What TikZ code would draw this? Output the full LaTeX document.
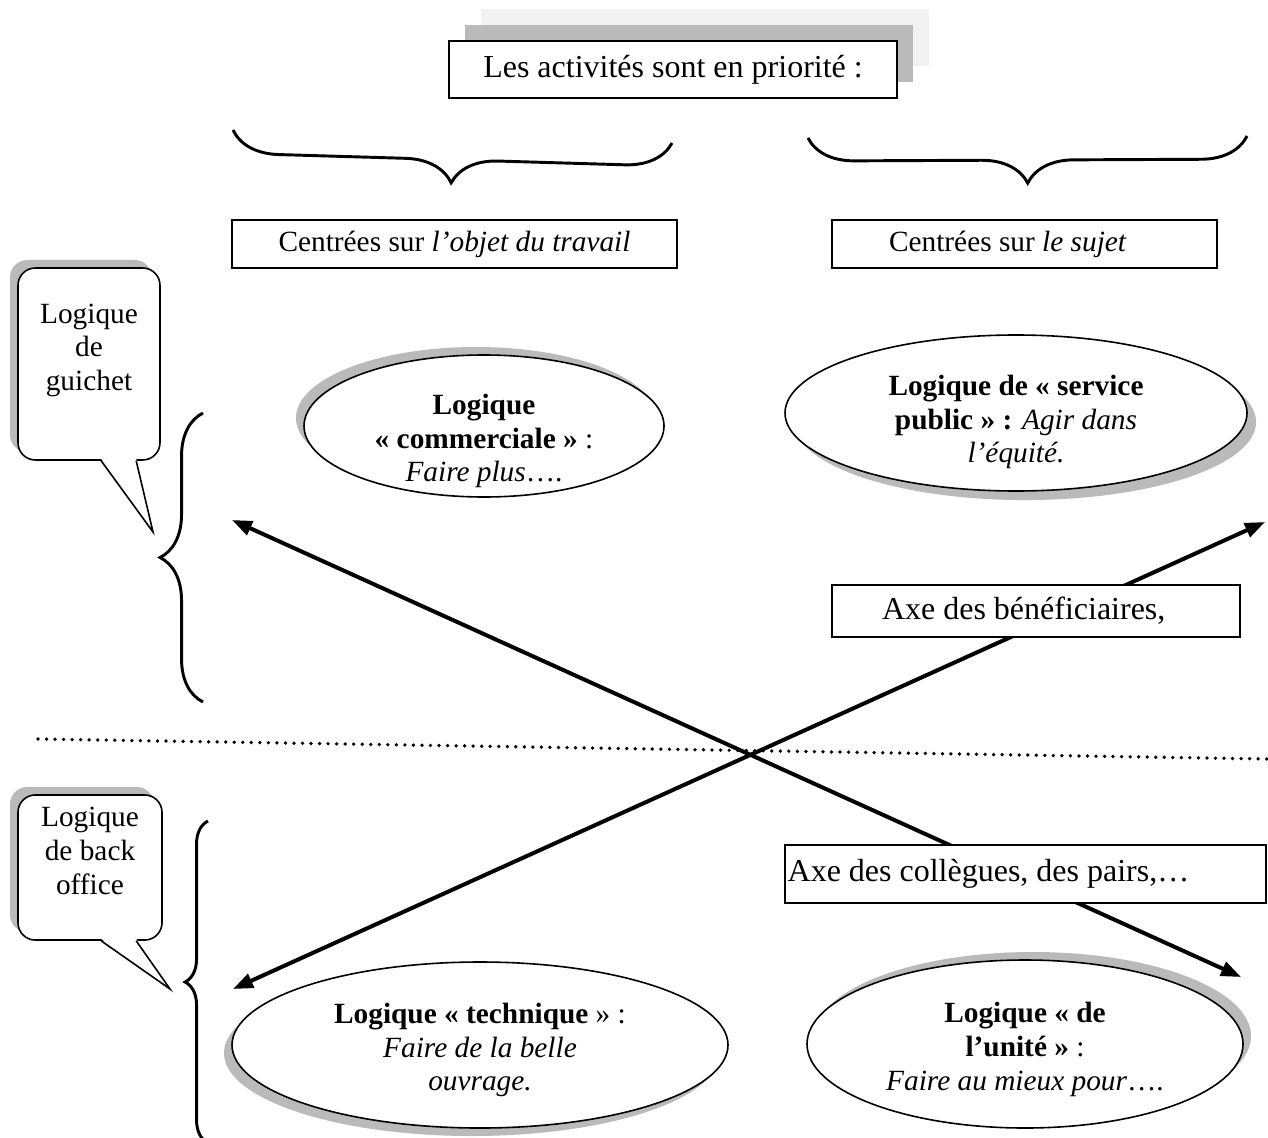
\documentclass[tikz,border=0pt]{standalone}
\usepackage{fontspec}
\setmainfont{Liberation Serif}
\usetikzlibrary{shapes.geometric, arrows.meta, decorations.pathreplacing, shadows}

\definecolor{ombre}{gray}{0.73}
\definecolor{ombreclaire}{gray}{0.95}

\begin{document}
\begin{tikzpicture}[
    % One unit is one pixel of the page, y grows downwards
    x=0.375pt, y=-0.375pt,
    font=\fontsize{11pt}{12.65pt}\selectfont,
    grand/.style={font=\fontsize{12pt}{13.8pt}\selectfont},
    % Style for the plain boxes
    cadre/.style={
        rectangle,
        draw=black,
        line width=0.6pt,
        fill=white,
        inner sep=2pt,
        minimum height=18pt
    },
    % Boxes whose text starts on the left
    etiquette/.style={
        cadre,
        align=flush left,
        inner xsep=0pt
    },
    % Style for the speech bubbles on the left
    bulle/.style={
        rectangle,
        rounded corners=6.5pt,
        draw=black,
        line width=0.6pt,
        fill=white,
        align=center,
        inner xsep=3pt,
        inner ysep=1pt,
        general shadow={fill=ombre, shadow xshift=-3pt, shadow yshift=3pt}
    },
    % Style for the four logics (ellipses) and their texts
    logique/.style={
        ellipse,
        draw=black,
        line width=0.6pt,
        fill=white,
        inner sep=0pt
    },
    texte/.style={align=center, inner sep=0pt},
    accolade/.style={decorate, line width=1.1pt, decoration={brace}},
    fleche/.style={<->, >={Triangle[length=7.5pt,width=5.5pt]}, line width=1.5pt},
    separation/.style={line width=1.4pt, dash pattern=on 0pt off 3.2pt, line cap=round}
]

\path[use as bounding box, fill=white] (0,0) rectangle (1268,1137);

% 1. Title with its two shadows
\node[cadre, grand, minimum width=168pt, minimum height=21.4pt,
      general shadow={fill=ombreclaire, shadow xshift=12pt, shadow yshift=12pt},
      general shadow={fill=ombre, shadow xshift=6pt, shadow yshift=6pt}]
      (titre) at (673,69.5) {Les activités sont en priorité :};

% 2. Braces under the title
\draw[accolade, decoration={amplitude=17.4pt}] (672,143) -- (233,130);
\draw[accolade, decoration={amplitude=17.3pt}] (1247,136) -- (808,138);

\node[cadre, minimum width=166.9pt] (objet) at (454.5,244) {Centrées sur \textit{l’objet du travail}};
\node[etiquette, text width=144.4pt] (sujet) at (1024.5,244) {\hspace*{21.4pt}Centrées sur \textit{le sujet}};

% 3. The four logics
\node[logique, minimum width=135pt, minimum height=53.25pt,
      general shadow={fill=ombre, shadow xshift=-3pt, shadow yshift=3pt}]
      (commerciale) at (484,426) {};
\node[texte] (commerciale_texte) at ([shift={(0,15)}]commerciale.center)
      {\textbf{Logique}\\\textbf{« commerciale »} :\\\textit{Faire plus}….};

\node[logique, minimum width=173.25pt, minimum height=58.5pt,
      general shadow={fill=ombre, shadow xshift=3.4pt, shadow yshift=-3.4pt}]
      (service) at (1016,413) {};
\node[texte] (service_texte) at ([shift={(0,9)}]service.center)
      {\textbf{Logique de « service}\\\textbf{public » :} \textit{Agir dans}\\\textit{l’équité.}};

\node[logique, minimum width=186pt, minimum height=62.25pt,
      general shadow={fill=ombre, shadow xshift=-3pt, shadow yshift=-3pt}]
      (technique) at (480,1045) {};
\node[texte] (technique_texte) at ([shift={(0,5)}]technique.center)
      {\textbf{Logique « technique} » :\\\textit{Faire de la belle}\\\textit{ouvrage.}};

\node[logique, minimum width=163.5pt, minimum height=63pt,
      general shadow={fill=ombre, shadow xshift=3pt, shadow yshift=3pt}]
      (unite) at (1025,1044) {};
\node[texte] (unite_texte) at ([shift={(0,5.5)}]unite.center)
      {\textbf{Logique « de}\\\textbf{l’unité »} :\\\textit{Faire au mieux pour}….};

% 4. Speech bubbles and left braces
\node[bulle, minimum width=53.25pt, minimum height=72pt] (guichet) at (89,364) {Logique\\de\\guichet\\\mbox{}};
\coordinate (pointe_guichet) at (153,532);
\fill[white] ([shift={(84,-2)}]guichet.south west) -- (pointe_guichet) -- ([shift={(119,-2)}]guichet.south west) -- cycle;
\draw[line width=0.6pt] ([shift={(84,0)}]guichet.south west) -- (pointe_guichet) -- ([shift={(119,0)}]guichet.south west);

\node[bulle, minimum width=54pt, minimum height=54.4pt] (backoffice) at (90,867.5) {Logique\\de back\\office\\\mbox{}};
\coordinate (pointe_backoffice) at (170,989);
\fill[white] ([shift={(84,-2)}]backoffice.south west) -- (pointe_backoffice) -- ([shift={(119,-2)}]backoffice.south west) -- cycle;
\draw[line width=0.6pt] ([shift={(84,0)}]backoffice.south west) -- (pointe_backoffice) -- ([shift={(119,0)}]backoffice.south west);

\draw[accolade, decoration={amplitude=16.1pt}] (203,702) -- (203,413);
\draw[accolade, decoration={amplitude=8.6pt}] (208,1143) -- (208,821);

% 5. Dotted separation line
\coordinate (sep_gauche) at (38,739);
\coordinate (sep_droite) at (1268,759);
\draw[separation] (sep_gauche) -- (sep_droite);

% 6. The two axes, then their labels on top
\coordinate (axe1_debut) at (232,520);
\coordinate (axe1_fin) at (1241,977);
\coordinate (axe2_debut) at (233,989);
\coordinate (axe2_fin) at (1265,522);
\draw[fleche] (axe1_debut) -- (axe1_fin);
\draw[fleche] (axe2_debut) -- (axe2_fin);

\node[etiquette, grand, text width=153pt, minimum height=19.5pt] (beneficiaires) at (1036,611) {\hspace*{18.75pt}Axe des bénéficiaires,};
\node[etiquette, grand, text width=178.4pt, inner xsep=1pt, minimum height=21.75pt] (collegues) at (1025.5,874) {Axe des collègues, des pairs,…};

\end{tikzpicture}
\end{document}
